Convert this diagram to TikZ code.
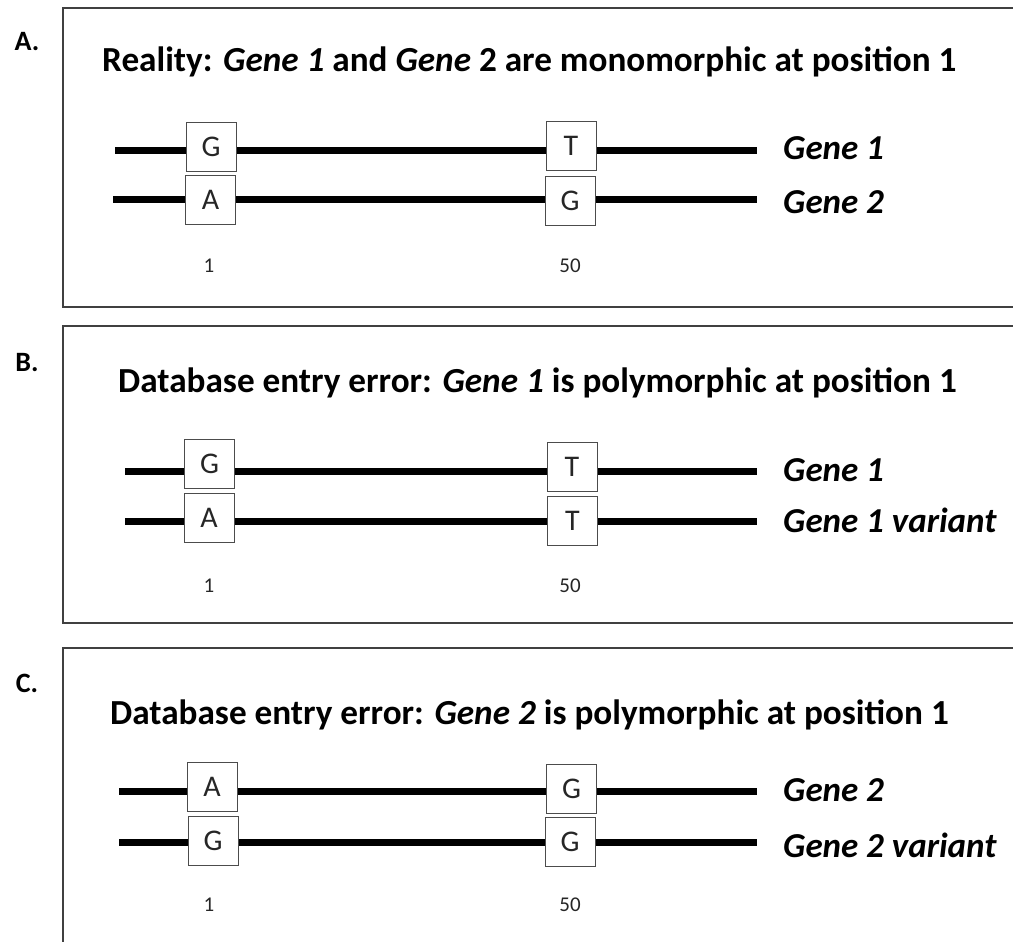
\documentclass[tikz,border=0pt]{standalone}
\usepackage{fontspec}
\setmainfont{Carlito}
\begin{document}
\begin{tikzpicture}[x=1pt,y=-1pt,
  panel/.style={draw=black!75,line width=1.5pt},
  plabel/.style={font=\fontsize{28}{30}\selectfont\bfseries,anchor=center},
  title/.style={font=\fontsize{35.2}{37}\selectfont\bfseries,anchor=base west,inner sep=0},
  base/.style={draw=black!70,fill=white,line width=1pt,minimum width=50pt,minimum height=49pt,inner sep=0,font=\fontsize{30}{32}\selectfont,text=black!85},
  strand/.style={line width=7pt,black},
  posnum/.style={font=\fontsize{21}{23}\selectfont,text=black!85,inner sep=0},
  gname/.style={font=\fontsize{35}{37}\selectfont\bfseries\itshape,anchor=base west,inner sep=0}]
\useasboundingbox (0,0) rectangle (1013,942);
% ---------- Panel A
\draw[panel] (1030,8) -- (63,8) -- (63,307) -- (1030,307);
\node[plabel] (la) at (27,42) {A.};
\node[title] (ta) at (102,72) {Reality: \textit{Gene 1} and \textit{Gene} 2 are monomorphic at position 1};
\coordinate (a1s) at (115,150); \coordinate (a1e) at (757,150);
\coordinate (a2s) at (113,199); \coordinate (a2e) at (757,199);
\draw[strand] (a1s) -- (a1e);
\draw[strand] (a2s) -- (a2e);
\node[base] (a11) at (211,146.5) {G};
\node[base] (a12) at (571,146) {T};
\node[base] (a21) at (210.5,200) {A};
\node[base] (a22) at (570,201) {G};
\node[gname] (ga1) at (783,159) {Gene 1};
\node[gname] (ga2) at (783,213) {Gene 2};
\node[posnum] (pa1) at (209,266) {1};
\node[posnum] (pa2) at (570,266) {50};
% ---------- Panel B
\draw[panel] (1030,326) -- (63,326) -- (63,623) -- (1030,623);
\node[plabel] (lb) at (27,363) {B.};
\node[title] (tb) at (118,392) {Database entry error: \textit{Gene 1} is polymorphic at position 1};
\coordinate (b1s) at (125,471); \coordinate (b1e) at (757,471);
\coordinate (b2s) at (125,521); \coordinate (b2e) at (757,521);
\draw[strand] (b1s) -- (b1e);
\draw[strand] (b2s) -- (b2e);
\node[base] (b11) at (209.5,464) {G};
\node[base] (b12) at (572,466.5) {T};
\node[base] (b21) at (209,518) {A};
\node[base] (b22) at (572.5,520.5) {T};
\node[gname] (gb1) at (783,481) {Gene 1};
\node[gname] (gb2) at (783,532) {Gene 1 variant};
\node[posnum] (pb1) at (209,586) {1};
\node[posnum] (pb2) at (570,586) {50};
% ---------- Panel C
\draw[panel] (1030,648) -- (63,648) -- (63,960);
\node[plabel] (lc) at (27,683) {C.};
\node[title] (tc) at (110,724) {Database entry error: \textit{Gene 2} is polymorphic at position 1};
\coordinate (c1s) at (119,791); \coordinate (c1e) at (757,791);
\coordinate (c2s) at (119,842); \coordinate (c2e) at (757,842);
\draw[strand] (c1s) -- (c1e);
\draw[strand] (c2s) -- (c2e);
\node[base] (c11) at (212,787) {A};
\node[base] (c12) at (571.5,789) {G};
\node[base] (c21) at (213,840.5) {G};
\node[base] (c22) at (570,842) {G};
\node[gname] (gc1) at (783,801) {Gene 2};
\node[gname] (gc2) at (783,857) {Gene 2 variant};
\node[posnum] (pc1) at (209,905) {1};
\node[posnum] (pc2) at (570,905) {50};
\end{tikzpicture}
\end{document}
